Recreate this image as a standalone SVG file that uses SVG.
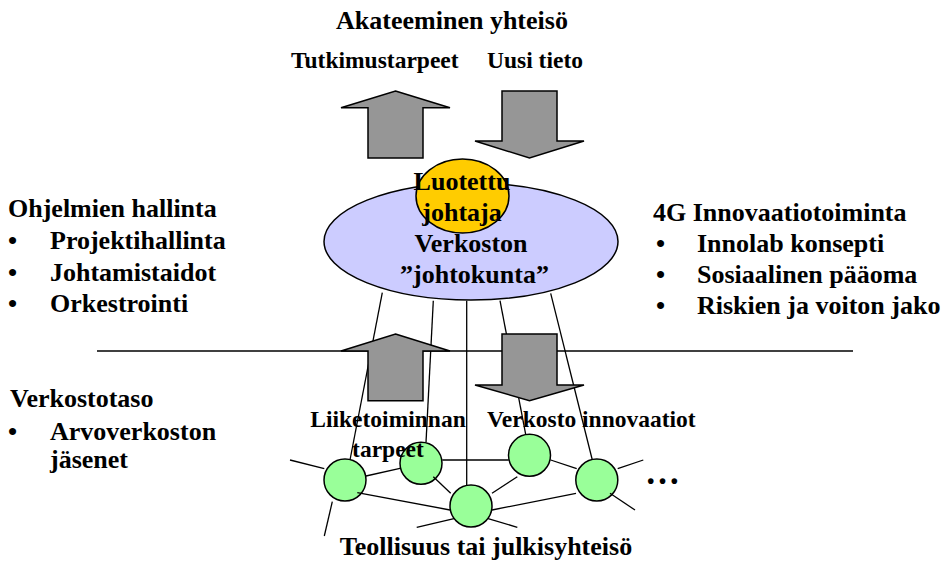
<svg xmlns="http://www.w3.org/2000/svg" width="948" height="564" viewBox="0 0 948 564">
  <style>
    text { font-family: "Liberation Serif", "Times New Roman", serif; font-weight: bold; fill: #000; }
    .t26 { font-size: 26px; }
    .t24 { font-size: 23.5px; }
    .mid { text-anchor: middle; }
    .ln { stroke: #000; stroke-width: 1.3; fill: none; }
    .arrow { fill: #969696; stroke: #000; stroke-width: 1.5; stroke-linejoin: miter; }
    .node { fill: #99FF99; stroke: #000; stroke-width: 1.5; }
  </style>
  <rect width="948" height="564" fill="#fff"/>

  <!-- links: board ellipse down to the network members, and member-to-member links -->
  <g id="connectors">
    <line class="ln" x1="382.3" y1="292.7" x2="350" y2="460"/>
    <line class="ln" x1="433.3" y1="300.7" x2="426" y2="442.5"/>
    <line class="ln" x1="466.7" y1="300.7" x2="466.7" y2="485.5"/>
    <line class="ln" x1="500" y1="300.7" x2="525.7" y2="434.3"/>
    <line class="ln" x1="550.7" y1="293.3" x2="592.3" y2="460"/>
    <line class="ln" x1="366" y1="476" x2="400" y2="468.3"/>
    <line class="ln" x1="442.3" y1="460" x2="508.7" y2="460"/>
    <line class="ln" x1="517.3" y1="476.7" x2="492" y2="493.3"/>
    <line class="ln" x1="550.7" y1="460" x2="576.7" y2="468.7"/>
    <line class="ln" x1="492" y1="510" x2="576" y2="493.3"/>
    <line class="ln" x1="290" y1="460" x2="324.3" y2="468.7"/>
    <line class="ln" x1="332.3" y1="501.7" x2="324.3" y2="536"/>
    <line class="ln" x1="416.7" y1="527.3" x2="459.3" y2="517.3"/>
    <line class="ln" x1="487.3" y1="518.3" x2="517.3" y2="527.3"/>
    <line class="ln" x1="617.7" y1="468.7" x2="643.3" y2="460"/>
  </g>

  <!-- level divider -->
  <line id="divider" class="ln" x1="97" y1="351" x2="853" y2="351"/>

  <!-- network members -->
  <g id="member-1"><circle class="node" cx="345" cy="480" r="21"/></g>
  <g id="member-2"><circle class="node" cx="421" cy="463.3" r="21"/></g>
  <g id="member-3"><circle class="node" cx="471" cy="506" r="21"/></g>
  <g id="member-4"><circle class="node" cx="529.5" cy="455.3" r="21"/></g>
  <g id="member-5"><circle class="node" cx="596.8" cy="480" r="21"/></g>

  <!-- links that run over the member circles -->
  <g id="connectors-front">
    <line class="ln" x1="357.3" y1="492.7" x2="450" y2="510"/>
    <line class="ln" x1="433.3" y1="476.7" x2="450.7" y2="493.3"/>
    <line class="ln" x1="610" y1="493.3" x2="635" y2="510"/>
  </g>

  <!-- block arrows -->
  <g id="arrow-research-needs">
    <polygon class="arrow" points="395.5,91 450,107.7 423,107.7 423,158 368,158 368,107.7 341,107.7"/>
  </g>
  <g id="arrow-new-knowledge">
    <polygon class="arrow" points="502,91 557,91 557,141 584,141 529.5,158 475,141 502,141"/>
  </g>
  <g id="arrow-business-needs">
    <polygon class="arrow" points="395.5,334 450,351 423,351 423,400.7 368,400.7 368,351 341,351"/>
  </g>
  <g id="arrow-network-innovations">
    <polygon class="arrow" points="502,334 557,334 557,385 584,385 529.5,400.7 475,385 502,385"/>
  </g>

  <!-- network board -->
  <g id="board">
    <ellipse cx="471" cy="241.5" rx="147" ry="58.5" fill="#CCCCFF" stroke="#000" stroke-width="1.5"/>
  </g>
  <g id="trusted-leader">
    <ellipse cx="462.5" cy="196" rx="46.5" ry="37" fill="#FFCC00" stroke="#000" stroke-width="1.5"/>
    <text class="t26 mid" x="462" y="190">Luotettu</text>
    <text class="t26 mid" x="462" y="221">johtaja</text>
  </g>
  <g id="board-label">
    <text class="t26 mid" x="471" y="252">Verkoston</text>
    <text class="t26 mid" x="474.5" y="283">”johtokunta”</text>
  </g>

  <!-- top: academic community -->
  <g id="academic">
    <text class="t26 mid" x="452" y="29">Akateeminen yhteisö</text>
    <text class="t24" x="291" y="68">Tutkimustarpeet</text>
    <text class="t24" x="487" y="68">Uusi tieto</text>
  </g>

  <!-- left: programme management -->
  <g id="programme-management">
    <text class="t26" x="8" y="217">Ohjelmien hallinta</text>
    <text class="t26" x="8" y="249">•</text>
    <text class="t26" x="50" y="249">Projektihallinta</text>
    <text class="t26" x="8" y="280.5">•</text>
    <text class="t26" x="50" y="280.5">Johtamistaidot</text>
    <text class="t26" x="8" y="312">•</text>
    <text class="t26" x="50" y="312">Orkestrointi</text>
  </g>

  <!-- right: 4G innovation -->
  <g id="innovation-4g">
    <text class="t26" x="653" y="220.5">4G Innovaatiotoiminta</text>
    <text class="t26" x="656" y="252">•</text>
    <text class="t26" x="697" y="252">Innolab konsepti</text>
    <text class="t26" x="656" y="283">•</text>
    <text class="t26" x="697" y="283">Sosiaalinen pääoma</text>
    <text class="t26" x="656" y="314">•</text>
    <text class="t26" x="697" y="314">Riskien ja voiton jako</text>
  </g>

  <!-- left: network level -->
  <g id="network-level">
    <text class="t26" x="10" y="407">Verkostotaso</text>
    <text class="t26" x="8" y="440">•</text>
    <text class="t26" x="50" y="440">Arvoverkoston</text>
    <text class="t26" x="50" y="468">jäsenet</text>
  </g>

  <!-- arrow labels at network level -->
  <g id="network-labels">
    <text class="t24 mid" x="388" y="427">Liiketoiminnan</text>
    <text class="t24 mid" x="388" y="457">tarpeet</text>
    <text class="t24" x="487" y="427">Verkosto innovaatiot</text>
    <text x="662.5" y="484" class="mid" style="font-size:35px">…</text>
  </g>

  <!-- bottom: industry or public community -->
  <g id="industry">
    <text class="t26 mid" x="486" y="555">Teollisuus tai julkisyhteisö</text>
  </g>
</svg>
